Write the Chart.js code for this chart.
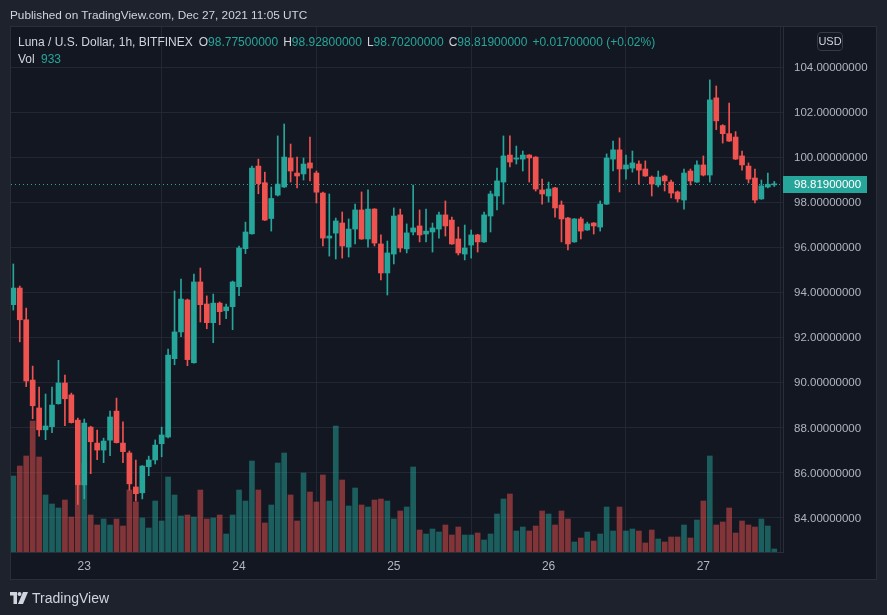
<!DOCTYPE html>
<html>
<head>
<meta charset="utf-8">
<script src="https://cdn.jsdelivr.net/npm/chart.js@4.4.0/dist/chart.umd.min.js"></script>
<style>
  body { margin: 0; background: #1e222d; width: 887px; height: 615px; overflow: hidden;
         font-family: 'Liberation Sans', Arial, sans-serif; }
  #frame { position: absolute; left: 10px; top: 26px; width: 867px; height: 554px;
           box-sizing: border-box; border: 1px solid #2a2e39; background: #131722; }
  #wrap { position: absolute; left: 0; top: 0; width: 887px; height: 615px; }
  .txt { position: absolute; color: #d1d4dc; font-size: 12px; white-space: nowrap; line-height: 16px; }
  .v { color: #26a69a; }
  .g { margin-left: 5px; }
  #usd { position: absolute; left: 817px; top: 32px; width: 26px; height: 19px; box-sizing: border-box;
         border: 1px solid #363a45; border-radius: 4px; color: #d1d4dc; font-size: 11px;
         text-align: center; line-height: 17px; }
</style>
</head>
<body>
<div id="frame"></div>
<div id="wrap"><canvas id="chart" width="887" height="615"></canvas></div>
<div class="txt" style="left:10px;top:7px;font-size:11.8px">Published on TradingView.com, Dec 27, 2021 11:05 UTC</div>
<div class="txt" id="legend" style="left:18px;top:34px"></div>
<div class="txt" id="vol" style="left:18px;top:51px"></div>
<div id="usd">USD</div>
<div class="txt" style="left:10px;top:589px;font-size:14px;line-height:18px">
  <svg width="18" height="12" viewBox="0 0 18 12" style="vertical-align:-1px">
    <path d="M0 0h7v12H3.5V3.5H0z" fill="#d1d4dc"/>
    <circle cx="9.5" cy="2" r="2" fill="#d1d4dc"/>
    <path d="M13 0h5l-5 12H8z" fill="#d1d4dc"/>
  </svg><span style="margin-left:4px">TradingView</span>
</div>
<script>
// Luna / USD, 1h candles, Dec 22 13:00 -> Dec 27 11:00 UTC
const open = [
  93.45, 94.19, 92.78, 90.10, 88.86, 87.89, 88.03, 89.05, 89.97, 89.44,
  88.32, 85.44, 88.01, 87.30, 86.99, 87.43, 88.72, 87.30, 86.86, 85.35,
  85.09, 86.25, 86.55, 87.27, 87.57, 91.05, 92.24, 93.66, 90.87, 94.46,
  93.48, 92.65, 93.52, 93.18, 93.36, 94.25, 95.94, 96.60, 99.61, 98.87,
  97.28, 98.32, 98.68, 99.97, 99.30, 99.26, 99.75, 99.30, 98.41, 96.41,
  96.63, 97.08, 96.01, 96.81, 97.66, 96.37, 97.70, 96.15, 94.86, 95.70,
  97.44, 95.93, 96.68, 96.95, 96.59, 96.68, 96.81, 97.44, 97.21, 96.37,
  95.70, 96.10, 96.55, 96.24, 97.39, 98.28, 98.90, 100.10, 99.92, 99.92,
  100.10, 100.01, 98.55, 98.28, 98.64, 97.88, 97.30, 96.24, 97.26, 96.77,
  97.08, 96.90, 97.92, 99.92, 100.33, 99.48, 99.52, 99.70, 99.48, 99.12,
  98.77, 99.17, 98.90, 98.46, 98.10, 99.39, 98.90, 99.66, 99.21, 102.64,
  101.41, 101.05, 100.90, 100.06, 99.61, 99.08, 98.15, 98.68, 98.775
];
const high = [
  95.26, 94.28, 93.30, 90.72, 89.79, 89.48, 89.79, 90.98, 90.32, 89.52,
  88.41, 88.37, 88.05, 87.88, 87.52, 88.72, 89.30, 88.24, 86.95, 86.55,
  86.30, 86.72, 87.44, 88.01, 91.48, 94.06, 94.59, 93.70, 94.81, 95.08,
  93.84, 93.92, 93.57, 93.48, 94.50, 96.06, 97.12, 99.61, 99.92, 99.34,
  98.68, 100.95, 101.48, 100.59, 100.01, 99.97, 100.90, 99.39, 98.45, 98.37,
  97.30, 97.57, 97.26, 97.92, 98.46, 98.55, 97.72, 96.55, 96.28, 97.75,
  97.70, 97.04, 98.77, 97.66, 97.70, 97.08, 97.57, 98.06, 97.34, 96.90,
  96.99, 96.77, 96.58, 97.57, 98.50, 99.52, 100.95, 100.95, 100.50, 100.28,
  100.12, 100.03, 99.03, 98.90, 98.66, 98.06, 97.33, 97.28, 97.34, 97.12,
  97.10, 98.06, 100.15, 100.72, 100.86, 100.10, 100.28, 99.84, 99.84, 99.17,
  99.39, 99.21, 98.99, 98.50, 99.48, 99.48, 99.84, 100.06, 103.44, 103.17,
  101.45, 102.41, 101.14, 100.28, 99.75, 99.48, 98.99, 99.30, 98.928
];
const low = [
  93.21, 91.80, 89.81, 88.38, 87.61, 87.45, 87.76, 89.03, 88.07, 88.19,
  84.57, 84.82, 85.94, 86.56, 86.43, 86.74, 87.30, 86.43, 85.21, 84.72,
  84.82, 85.85, 86.37, 86.69, 87.53, 90.78, 92.03, 90.74, 90.85, 92.68,
  92.38, 91.76, 92.56, 92.83, 92.34, 93.85, 95.72, 96.58, 98.38, 97.19,
  96.72, 98.28, 98.66, 98.90, 98.64, 98.99, 98.95, 97.97, 96.06, 95.61,
  95.48, 95.52, 95.57, 96.15, 96.35, 96.01, 96.06, 94.55, 93.88, 95.26,
  95.79, 95.75, 96.55, 96.24, 96.24, 95.79, 96.41, 96.50, 96.13, 95.66,
  95.44, 95.52, 95.79, 96.22, 96.68, 97.66, 97.92, 99.57, 99.70, 99.39,
  98.90, 98.50, 97.92, 98.01, 97.34, 96.24, 95.88, 96.22, 96.37, 96.75,
  96.59, 96.72, 97.90, 99.39, 98.46, 99.03, 99.34, 98.81, 99.15, 98.28,
  98.68, 98.50, 98.19, 98.01, 97.70, 98.77, 98.88, 99.17, 98.90, 101.23,
  100.63, 100.70, 99.90, 99.43, 98.86, 97.97, 98.13, 98.64, 98.702
];
const close = [
  94.19, 92.78, 90.06, 88.96, 87.89, 88.06, 88.99, 89.97, 89.27, 88.21,
  85.45, 88.19, 87.36, 86.99, 87.39, 88.46, 87.32, 86.92, 85.49, 85.05,
  86.28, 86.55, 87.21, 87.66, 91.21, 92.24, 93.70, 91.01, 94.46, 93.45,
  92.65, 93.52, 93.14, 93.35, 94.46, 95.97, 96.68, 99.52, 98.83, 97.21,
  98.17, 98.81, 100.01, 99.39, 99.17, 99.70, 99.52, 98.45, 96.41, 96.50,
  97.17, 96.06, 96.81, 97.66, 96.37, 97.70, 96.19, 94.86, 95.75, 97.39,
  95.97, 96.64, 96.86, 96.55, 96.72, 96.86, 97.44, 96.95, 96.15, 95.75,
  95.97, 96.55, 96.24, 97.44, 98.37, 98.95, 100.06, 99.79, 99.97, 100.10,
  99.97, 98.59, 98.37, 98.59, 97.75, 97.26, 96.15, 97.26, 96.72, 97.04,
  96.95, 97.92, 99.97, 100.33, 99.48, 99.66, 99.75, 99.43, 99.17, 98.81,
  99.12, 98.95, 98.41, 98.15, 99.30, 98.95, 99.66, 99.21, 102.55, 101.62,
  101.05, 100.72, 99.92, 99.66, 99.03, 98.10, 98.73, 98.802, 98.819
];
const volume = [
  23560, 26660, 29760, 40610, 29450, 17670, 14880, 13640, 16120, 10850,
  21700, 27590, 11470, 8370, 10230, 8370, 10230, 8060, 19220, 15500,
  10540, 7440, 15810, 9610, 23250, 17670, 11160, 11470, 10850, 19220,
  10230, 10540, 11470, 5580, 11470, 19220, 15810, 28210, 19220, 8990,
  14570, 27590, 30690, 17670, 9610, 24490, 18600, 15500, 23870, 15810,
  39060, 22320, 14260, 19840, 14570, 13950, 16120, 16430, 15810, 10230,
  12710, 13950, 26350, 6820, 5580, 7130, 6200, 8370, 5270, 7750,
  5270, 5270, 5890, 3720, 5580, 11780, 16430, 17980, 6510, 7750,
  6510, 8060, 12710, 11780, 8370, 12710, 10230, 3100, 4340, 6200,
  3410, 5580, 13950, 6510, 13950, 6510, 7130, 6510, 2790, 6820,
  4030, 3100, 4650, 4650, 8370, 4340, 9920, 15810, 29760, 8370,
  9300, 13640, 5890, 9610, 8370, 7750, 10230, 8060, 933
];
const priceTicks = [84, 86, 88, 90, 92, 94, 96, 98, 100, 102, 104];
const startTime = Date.UTC(2021, 11, 22, 13);

const UP = '#26a69a', DOWN = '#ef5350';
const times = open.map((_, i) => new Date(startTime + i * 3600000));
const dayIdx = times.map((t, i) => t.getUTCHours() === 0 ? i : -1).filter(i => i >= 0);
const isUp = close.map((c, i) => c >= open[i]);
const last = close.length - 1;
const fmt = v => v.toFixed(8);

// header legend
const chg = close[last] - close[last - 1];
const sign = chg >= 0 ? '+' : '';
document.getElementById('legend').innerHTML =
  'Luna / U.S. Dollar, 1h, BITFINEX' +
  '<span class="g" style="margin-left:6px">O<span class="v">' + fmt(open[last]) + '</span></span>' +
  '<span class="g">H<span class="v">' + fmt(high[last]) + '</span></span>' +
  '<span class="g">L<span class="v">' + fmt(low[last]) + '</span></span>' +
  '<span class="g">C<span class="v">' + fmt(close[last]) + '</span></span>' +
  '<span class="g v">' + sign + fmt(chg) + ' (' + sign + (chg / close[last - 1] * 100).toFixed(2) + '%)</span>';
document.getElementById('vol').innerHTML = 'Vol <span class="v" style="margin-left:3px">' + volume[last] + '</span>';

// dotted last price line + price label on the axis
const lastPrice = {
  id: 'lastPrice',
  beforeDatasetsDraw(chart) {
    const {ctx, chartArea} = chart;
    const y = Math.round(chart.scales.y.getPixelForValue(close[last])) + 0.5;
    ctx.save();
    ctx.strokeStyle = UP;
    ctx.lineWidth = 1;
    ctx.setLineDash([1, 3]);
    ctx.beginPath();
    ctx.moveTo(chartArea.left, y);
    ctx.lineTo(chartArea.right, y);
    ctx.stroke();
    ctx.restore();
  },
  afterDraw(chart) {
    const {ctx, chartArea} = chart;
    const y = chart.scales.y.getPixelForValue(close[last]);
    ctx.save();
    ctx.fillStyle = UP;
    ctx.fillRect(chartArea.right, Math.round(y) - 8, 84, 17);
    ctx.fillStyle = '#ffffff';
    ctx.font = "11.5px 'Liberation Sans', Arial, sans-serif";
    ctx.textBaseline = 'middle';
    ctx.fillText(fmt(close[last]), chartArea.right + 11, Math.round(y) + 1);
    ctx.restore();
  }
};

Chart.defaults.font.family = "'Liberation Sans', Arial, sans-serif";

new Chart(document.getElementById('chart'), {
  type: 'bar',
  data: {
    datasets: [
      {
        label: 'Vol',
        yAxisID: 'yVol',
        data: volume.map((v, i) => ({x: i, y: v})),
        backgroundColor: isUp.map(u => u ? 'rgba(38,166,154,0.5)' : 'rgba(239,83,80,0.5)'),
        barThickness: 5,
        grouped: false,
        order: 3
      },
      {
        label: 'wick',
        yAxisID: 'y',
        data: low.map((l, i) => ({x: i, y: [l, high[i]]})),
        backgroundColor: isUp.map(u => u ? UP : DOWN),
        barThickness: 1,
        grouped: false,
        order: 2
      },
      {
        label: 'body',
        yAxisID: 'y',
        data: open.map((o, i) => ({x: i, y: [o, close[i]]})),
        backgroundColor: isUp.map(u => u ? UP : DOWN),
        barThickness: 5,
        minBarLength: 1,
        grouped: false,
        order: 1
      }
    ]
  },
  options: {
    responsive: false,
    animation: false,
    layout: { padding: { left: 11, top: 27, right: 10, bottom: 36 } },
    plugins: { legend: { display: false }, tooltip: { enabled: false } },
    scales: {
      x: {
        type: 'linear',
        offset: false,
        min: -0.36,
        max: 119.35,
        afterBuildTicks: s => { s.ticks = dayIdx.map(v => ({value: v})); },
        afterFit: s => { s.height = 27; },
        ticks: {
          autoSkip: false,
          maxRotation: 0,
          padding: 7,
          color: '#b2b5be',
          font: { size: 12 },
          callback: v => String(times[v].getUTCDate())
        },
        grid: { color: '#232733', drawTicks: false },
        border: { display: true, color: '#2a2e39' }
      },
      y: {
        position: 'right',
        min: 82.46,
        max: 105.79,
        afterBuildTicks: s => { s.ticks = priceTicks.map(v => ({value: v})); },
        afterFit: s => { s.width = 94; },
        ticks: {
          padding: 11,
          labelOffset: 1,
          color: '#b2b5be',
          font: { size: 11.5 },
          callback: v => fmt(v)
        },
        grid: { color: '#232733', drawTicks: false },
        border: { display: true, color: '#2a2e39' }
      },
      yVol: {
        display: false,
        min: 0,
        max: 162750
      }
    }
  },
  plugins: [lastPrice]
});
</script>
</body>
</html>
